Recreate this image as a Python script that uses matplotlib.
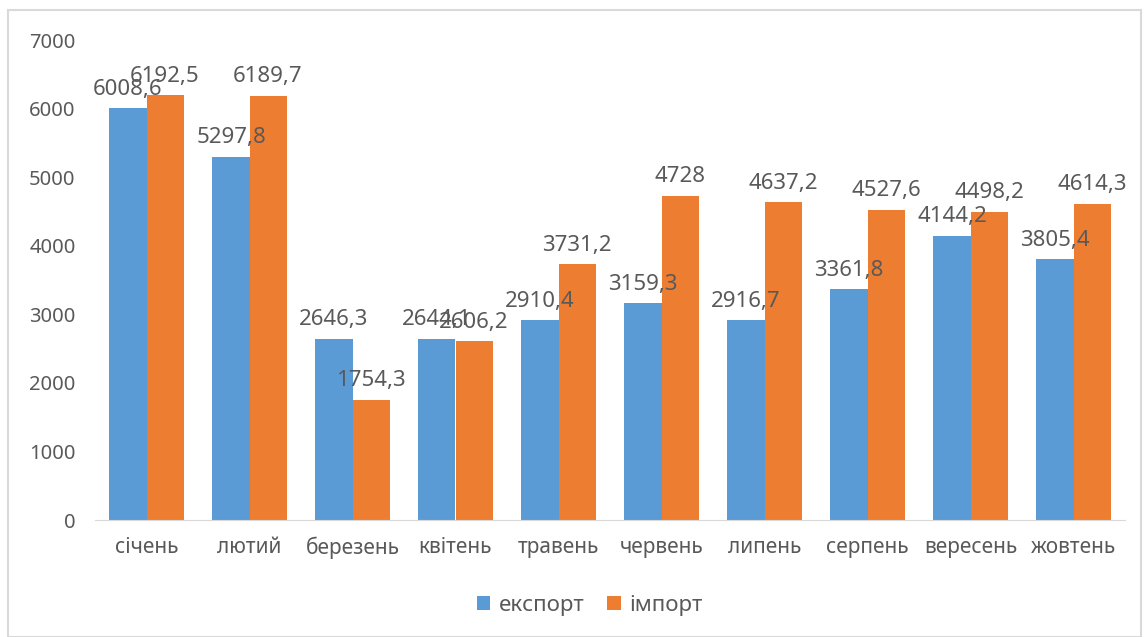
import numpy as np
import matplotlib
matplotlib.use("Agg")
import matplotlib.pyplot as plt
from matplotlib.patches import Rectangle

plt.rcParams['font.family'] = ['Noto Sans', 'DejaVu Sans']

months = ["січень", "лютий", "березень", "квітень", "травень",
          "червень", "липень", "серпень", "вересень", "жовтень"]
export = [6008.6, 5297.8, 2646.3, 2644.1, 2910.4, 3159.3, 2916.7, 3361.8, 4144.2, 3805.4]
imports = [6192.5, 6189.7, 1754.3, 2606.2, 3731.2, 4728, 4637.2, 4527.6, 4498.2, 4614.3]

BLUE = "#5B9BD5"
ORANGE = "#ED7D31"
GRAY = "#595959"


def fmt(v):
    s = f"{v:.1f}".rstrip("0").rstrip(".")
    return s.replace(".", ",")


fig = plt.figure(figsize=(11.45, 6.37), dpi=100)
fig.patches.append(Rectangle((8 / 1145, 0), 1 - 8 / 1145 - 4 / 1145, 1 - 10 / 637,
                             transform=fig.transFigure, fill=False,
                             edgecolor="#D9D9D9", linewidth=1.5))
ax = fig.add_axes([95 / 1145, 117 / 637, 1030 / 1145, 480 / 637])

x = np.arange(len(months))
w = 0.36
b1 = ax.bar(x - w / 2, export, w, color=BLUE, label="експорт")
b2 = ax.bar(x + w / 2, imports, w, color=ORANGE, label="імпорт")

# підписи значень над стовпцями (як у Excel, з перекриттями)
for bars, vals in ((b1, export), (b2, imports)):
    for r, v in zip(bars, vals):
        ax.annotate(fmt(v), (r.get_x() + r.get_width() / 2, v),
                    xytext=(0, 6), textcoords="offset points",
                    ha="center", va="bottom", fontsize=16, color=GRAY)

ax.set_xlim(-0.5, len(months) - 0.5)
ax.set_ylim(0, 7000)
ax.set_yticks(range(0, 7001, 1000))
ax.set_xticks(x)
ax.set_xticklabels(months)
ax.tick_params(axis="y", length=0, labelsize=14.5, colors=GRAY, pad=14)
ax.tick_params(axis="x", length=0, labelsize=15, colors=GRAY, pad=12)
for s in ("top", "right", "left"):
    ax.spines[s].set_visible(False)
ax.spines["bottom"].set_color("#D9D9D9")

fig.legend(loc="center", bbox_to_anchor=(590 / 1145, 1 - 605 / 637), ncol=2,
           frameon=False, fontsize=16, labelcolor=GRAY, handlelength=0.6,
           handleheight=0.6, columnspacing=1.0, handletextpad=0.4)

fig.savefig("out.png", dpi=100)
